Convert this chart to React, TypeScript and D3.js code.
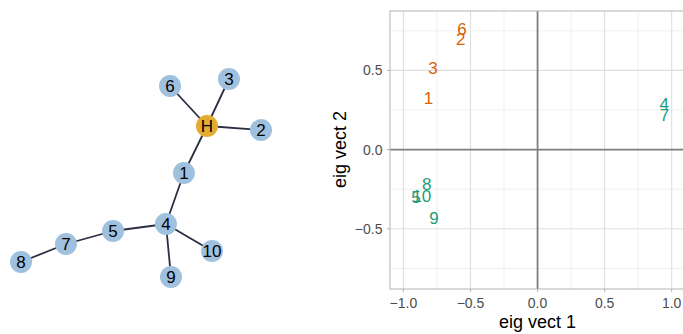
import React from "react";
import * as d3 from "d3";

// ---- Network data (layout coordinates) ----
const nodeIds = ["H", "1", "2", "3", "4", "5", "6", "7", "8", "9", "10"];
const nodeLayoutX = [0.55, 0.358, 1.0, 0.733, 0.208, -0.233, 0.242, -0.625, -1.0, 0.25, 0.592];
const nodeLayoutY = [-0.52, -0.05, -0.48, -0.99, 0.46, 0.53, -0.92, 0.66, 0.84, 0.99, 0.73];
const edgeFrom = ["H", "H", "H", "H", "1", "4", "5", "7", "4", "4"];
const edgeTo = ["6", "3", "2", "1", "4", "5", "7", "8", "9", "10"];

// ---- Eigenvector scatter data ----
const pointLabels = ["6", "2", "3", "1", "4", "7", "8", "10", "5", "9"];
const eigVect1 = [-0.563, -0.572, -0.78, -0.813, 0.944, 0.947, -0.826, -0.863, -0.906, -0.772];
const eigVect2 = [0.763, 0.696, 0.513, 0.328, 0.288, 0.219, -0.218, -0.292, -0.296, -0.433];
const pointGroup = ["A", "A", "A", "A", "B", "B", "B", "B", "B", "B"];
const groupColors: Record<string, string> = { A: "#D95F02", B: "#1B9E77" };

const xMajor = [-1.0, -0.5, 0.0, 0.5, 1.0];
const xMinor = [-0.75, -0.25, 0.25, 0.75];
const yMajor = [-0.5, 0.0, 0.5];
const yMinor = [-0.75, -0.25, 0.25, 0.75];

const FONT = "'Liberation Sans', Arial, Helvetica, sans-serif";

export default function App() {
  const W = 683;
  const H = 334;

  // network scales
  const nx = d3.scaleLinear().domain([-1, 1]).range([21, 261]);
  const ny = d3.scaleLinear().domain([-1, 1]).range([78, 278]);
  const idx = (id: string) => nodeIds.indexOf(id);

  // scatter panel
  const pL = 390, pR = 685.1, pT = 11, pB = 289;
  const x = d3.scaleLinear().domain([-1.1, 1.1]).range([pL, pR]);
  const y = d3.scaleLinear().domain([-0.88, 0.875]).range([pB, pT]);
  const fmt = d3.format(".1f");

  return (
    <svg width={W} height={H} style={{ position: "absolute", left: 0, top: 0, background: "#fff" }} fontFamily={FONT}>
      {/* network edges */}
      <g>
        {edgeFrom.map((f, i) => {
          const a = idx(f), b = idx(edgeTo[i]);
          return (
            <line key={i} x1={nx(nodeLayoutX[a])} y1={ny(nodeLayoutY[a])} x2={nx(nodeLayoutX[b])} y2={ny(nodeLayoutY[b])}
              stroke="#2B2D42" strokeWidth={1.8} />
          );
        })}
      </g>
      <g>
        {nodeIds.map((id, i) => (
          <g key={id} transform={`translate(${nx(nodeLayoutX[i])},${ny(nodeLayoutY[i])})`}>
            <circle r={11} fill={id === "H" ? "#E3AC2E" : "#A0C1DE"} />
            <text textAnchor="middle" dy="0.36em" fontSize={17} fill="#000">{id}</text>
          </g>
        ))}
      </g>

      {/* scatter panel */}
      <defs>
        <clipPath id="panelClip">
          <rect x={pL} y={pT} width={pR - pL} height={pB - pT} />
        </clipPath>
      </defs>
      <g clipPath="url(#panelClip)">
        {xMinor.map((v) => (
          <line key={"xm" + v} x1={x(v)} x2={x(v)} y1={pT} y2={pB} stroke="#E5E5E5" strokeWidth={0.6} />
        ))}
        {yMinor.map((v) => (
          <line key={"ym" + v} y1={y(v)} y2={y(v)} x1={pL} x2={pR} stroke="#E5E5E5" strokeWidth={0.6} />
        ))}
        {xMajor.map((v) => (
          <line key={"xM" + v} x1={x(v)} x2={x(v)} y1={pT} y2={pB} stroke="#DEDEDE" strokeWidth={1.1} />
        ))}
        {yMajor.map((v) => (
          <line key={"yM" + v} y1={y(v)} y2={y(v)} x1={pL} x2={pR} stroke="#DEDEDE" strokeWidth={1.1} />
        ))}
        <line x1={x(0)} x2={x(0)} y1={pT} y2={pB} stroke="#7F7F7F" strokeWidth={1.8} />
        <line y1={y(0)} y2={y(0)} x1={pL} x2={pR} stroke="#7F7F7F" strokeWidth={1.8} />
        {pointLabels.map((l, i) => (
          <text key={i} x={x(eigVect1[i])} y={y(eigVect2[i])} dy="0.36em" textAnchor="middle" fontSize={17}
            fill={groupColors[pointGroup[i]]}>{l}</text>
        ))}
      </g>
      <rect x={pL} y={pT} width={pR - pL} height={pB - pT} fill="none" stroke="#B3B3B3" strokeWidth={1} />

      {/* x axis */}
      {xMajor.map((v) => (
        <g key={"xt" + v}>
          <line x1={x(v)} x2={x(v)} y1={pB} y2={pB + 3} stroke="#B3B3B3" strokeWidth={1} />
          <text x={x(v)} y={pB + 19} textAnchor="middle" fontSize={14} fill="#4D4D4D">{fmt(v)}</text>
        </g>
      ))}
      {yMajor.map((v) => (
        <g key={"yt" + v}>
          <line x1={pL - 3} x2={pL} y1={y(v)} y2={y(v)} stroke="#B3B3B3" strokeWidth={1} />
          <text x={pL - 7.5} y={y(v)} dy="0.36em" textAnchor="end" fontSize={14} fill="#4D4D4D">{fmt(v)}</text>
        </g>
      ))}
      <text x={x(0)} y={327.5} textAnchor="middle" fontSize={18} fill="#000">eig vect 1</text>
      <text transform={`translate(346,${y(0)}) rotate(-90)`} textAnchor="middle" fontSize={18} fill="#000">eig vect 2</text>
    </svg>
  );
}
